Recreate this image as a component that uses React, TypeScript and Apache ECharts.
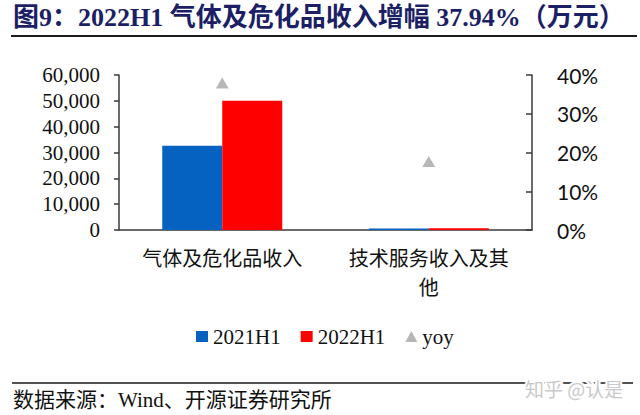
import * as echarts from 'echarts';
import { useEffect, useRef } from 'react';

const categories = ['气体及危化品收入', '技术服务收入及其\n他'];
const revenue2021H1 = [32600, 600];
const revenue2022H1 = [50000, 710];
const yoy = [37.94, 17.7];
const seriesNames = ['2021H1', '2022H1', 'yoy'];

const SERIF = "'Liberation Serif', 'Noto Sans CJK SC', serif";
const AXIS_COLOR = '#3a3a3a';

export default function App() {
  const container = useRef<HTMLDivElement | null>(null);

  useEffect(() => {
    if (!container.current) return;
    const chart = echarts.init(container.current, null, { renderer: 'svg' });
    chart.setOption({
      animation: false,
      backgroundColor: '#ffffff',
      grid: { left: 119, right: 108, top: 75, bottom: 185, outerBoundsMode: 'none' },
      legend: {
        left: 191,
        top: 321,
        itemWidth: 12,
        itemHeight: 11,
        itemGap: 20,
        textStyle: { fontFamily: SERIF, fontSize: 21, color: '#111' },
        data: [
          { name: seriesNames[0], icon: 'rect' },
          { name: seriesNames[1], icon: 'rect' },
          { name: seriesNames[2], icon: 'triangle' },
        ],
      },
      xAxis: {
        type: 'category',
        data: categories,
        axisLine: { lineStyle: { color: AXIS_COLOR, width: 1.5 } },
        axisTick: { inside: true, length: 6, lineStyle: { color: AXIS_COLOR, width: 1.5 } },
        axisLabel: {
          interval: 0,
          hideOverlap: false,
          margin: 13,
          fontFamily: "'Noto Sans CJK SC', sans-serif",
          fontSize: 20,
          lineHeight: 29,
          color: '#111',
        },
      },
      yAxis: [
        {
          type: 'value',
          min: 0,
          max: 60000,
          interval: 10000,
          splitLine: { show: false },
          axisLine: { show: true, lineStyle: { color: AXIS_COLOR, width: 1.5 } },
          axisTick: { show: true, length: 5, lineStyle: { color: AXIS_COLOR, width: 1.5 } },
          axisLabel: {
            margin: 19,
            fontFamily: SERIF,
            fontSize: 21,
            color: '#111',
            formatter: (v: number) => v.toLocaleString('en-US'),
          },
        },
        {
          type: 'value',
          min: 0,
          max: 40,
          interval: 10,
          position: 'right',
          splitLine: { show: false },
          axisLine: { show: true, lineStyle: { color: AXIS_COLOR, width: 1.5 } },
          axisTick: { show: true, inside: true, length: 6, lineStyle: { color: AXIS_COLOR, width: 1.5 } },
          axisLabel: {
            margin: 25,
            fontFamily: "Lato, 'Liberation Sans', sans-serif",
            fontSize: 21,
            color: '#111',
            formatter: '{value}%',
          },
        },
      ],
      series: [
        {
          name: seriesNames[0],
          type: 'bar',
          barWidth: 60,
          barGap: '0%',
          itemStyle: { color: '#0562c0' },
          data: revenue2021H1,
        },
        {
          name: seriesNames[1],
          type: 'bar',
          barWidth: 60,
          barGap: '0%',
          itemStyle: { color: '#fe0000' },
          data: revenue2022H1,
        },
        {
          name: seriesNames[2],
          type: 'scatter',
          yAxisIndex: 1,
          symbol: 'triangle',
          symbolSize: [13, 11],
          itemStyle: { color: '#a5a5a5' },
          data: yoy,
        },
      ],
      graphic: [
        {
          type: 'text',
          left: 13,
          top: 4,
          style: {
            text: '图9：2022H1 气体及危化品收入增幅 37.94%（万元）',
            fontFamily: SERIF,
            fontSize: 26,
            fontWeight: 'bold',
            fill: '#1c1f66',
          },
        },
        {
          type: 'line',
          shape: { x1: 11, y1: 36, x2: 637, y2: 36 },
          style: { stroke: '#1a1a1a', lineWidth: 2 },
        },
        {
          type: 'line',
          shape: { x1: 12, y1: 383, x2: 633, y2: 383 },
          style: { stroke: '#1a1a1a', lineWidth: 1.5 },
        },
        {
          type: 'text',
          left: 13,
          top: 389,
          style: {
            text: '数据来源：Wind、开源证券研究所',
            fontFamily: SERIF,
            fontSize: 21,
            fill: '#111',
          },
        },
        {
          type: 'text',
          left: 523,
          top: 377,
          style: {
            text: '知乎 @认是',
            fontFamily: "'Noto Sans CJK SC', sans-serif",
            fontSize: 19,
            fill: '#c9c9c9',
            stroke: '#ffffff',
            lineWidth: 4,
          },
        },
      ],
    });
    return () => chart.dispose();
  }, []);

  return (
    <div
      ref={container}
      style={{ position: 'absolute', left: 0, top: 0, width: 640, height: 415 }}
    />
  );
}
